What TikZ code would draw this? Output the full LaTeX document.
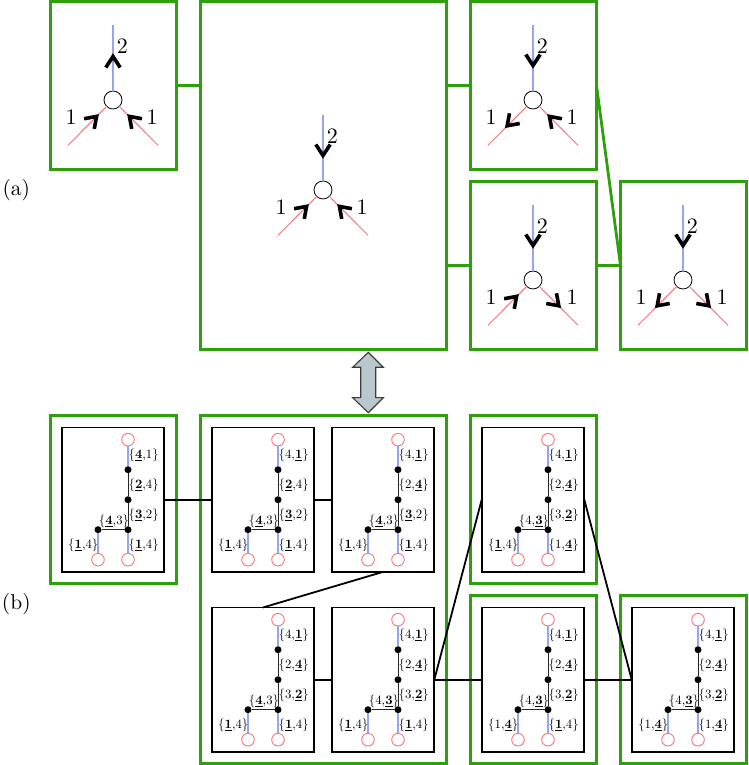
\documentclass[tikz,border=0pt]{standalone}
\tikzset{
  greenbox/.style={draw=frameColor,line width=2.8pt,inner sep=0pt,outer sep=0pt},
  greenlink/.style={draw=frameColor,line width=2.8pt},
  panelbox/.style={draw=black,line width=1.8pt,fill=white,minimum width=102.6pt,minimum height=144.4pt,inner sep=0pt,outer sep=0pt},
  panellink/.style={draw=black,line width=1.8pt},
  hollow/.style={circle,draw=black,line width=0.8pt,fill=white,minimum size=18pt,inner sep=0pt,outer sep=0pt},
  hollowred/.style={circle,draw=edgeRed,line width=0.9pt,fill=white,minimum size=12.6pt,inner sep=0pt,outer sep=0pt},
  dot/.style={circle,fill=black,minimum size=7pt,inner sep=0pt,outer sep=0pt},
  blueedge/.style={draw=edgeBlue,line width=1.1pt},
  rededge/.style={draw=edgeRed,line width=1pt},
  blackedge/.style={draw=black!85,line width=1pt},
  headline/.style={draw=black,line width=3.6pt,line join=miter},
  biglabel/.style={inner sep=0pt,outer sep=0pt,scale=2.20},
  setlabel/.style={inner sep=0pt,outer sep=0pt,scale=1.28}
}
\newcommand{\sel}[1]{$\underline{\mathbf{#1}}$}
\newcommand{\headmark}[3]{\draw[headline,rotate=#1] (#2+#3,7.2) -- (#2,0) -- (#2+#3,-7.2);}
\newcommand{\flowin}[1]{\headmark{#1}{23.2}{10.5}}
\newcommand{\flowout}[1]{\headmark{#1}{36.5}{-10.5}}
\newcommand{\vertexpic}[7]{
\begin{scope}[shift={(#2,#3)}]
\node[hollow] (#1c) at (0,0) {};
\coordinate (#1t) at (0,75);
\coordinate (#1l) at (-45,-45.3);
\coordinate (#1r) at (45,-45.3);
\draw[blueedge] (#1c) -- (#1t);
\draw[rededge] (#1c) -- (#1l);
\draw[rededge] (#1c) -- (#1r);
\headmark{90}{#4}{#5}
#6{225}
#7{315}
\node[biglabel] (#1n2) at (9.3,54.3) {2};
\node[biglabel] (#1n1) at (-42,-17.3) {1};
\node[biglabel] (#1n3) at (39,-17.3) {1};
\end{scope}
}
\newcommand{\treepanel}[9]{
\node[panelbox] (#1) at (#2,#3) {};
\begin{scope}[shift={(#2,#3)}]
\node[hollowred] (#1a) at (15,60) {};
\node[dot] (#1b) at (15,30) {};
\node[dot] (#1c) at (15,0) {};
\node[dot] (#1d) at (15,-30) {};
\node[dot] (#1e) at (-15,-30) {};
\node[hollowred] (#1f) at (15,-60) {};
\node[hollowred] (#1g) at (-15,-60) {};
\draw[blueedge] (#1a) -- (#1b);
\draw[blackedge] (#1b) -- (#1c);
\draw[blackedge] (#1c) -- (#1d);
\draw[blackedge] (#1d) -- (#1e);
\draw[blueedge] (#1d) -- (#1f);
\draw[blueedge] (#1e) -- (#1g);
\node[setlabel] (#1p) at (30.7,44) {\{#4\}};
\node[setlabel] (#1q) at (30.7,14) {\{#5\}};
\node[setlabel] (#1s) at (30.7,-16) {\{#6\}};
\node[setlabel] (#1u) at (1,-21.5) {\{#7\}};
\node[setlabel] (#1v) at (-29.7,-45.5) {\{#8\}};
\node[setlabel] (#1w) at (30.7,-45.5) {\{#9\}};
\end{scope}
}
\begin{document}
\begin{tikzpicture}[x=1pt,y=1pt]
\definecolor{frameColor}{RGB}{46,160,12}
\definecolor{edgeBlue}{RGB}{150,165,240}
\definecolor{edgeRed}{RGB}{250,115,125}
\definecolor{arrowFill}{RGB}{185,200,205}
\definecolor{arrowDraw}{RGB}{60,60,60}
\path[use as bounding box,fill=white] (0,0) rectangle (748,765);

\node[greenbox,minimum width=126pt,minimum height=168pt] (a1) at (113.5,679.5) {};
\node[greenbox,minimum width=246pt,minimum height=348pt] (a2) at (323.5,589.5) {};
\node[greenbox,minimum width=126pt,minimum height=168pt] (a3) at (533.5,679.5) {};
\node[greenbox,minimum width=126pt,minimum height=168pt] (a4) at (533.5,499.5) {};
\node[greenbox,minimum width=126pt,minimum height=168pt] (a5) at (683.5,499.5) {};

\draw[greenlink] (a1.east) -- (a1.east -| a2.west);
\draw[greenlink] (a3.west) -- (a3.west -| a2.east);
\draw[greenlink] (a4.west) -- (a4.west -| a2.east);
\draw[greenlink] (a4.east) -- (a5.west);
\draw[greenlink] (a3.east) -- (a5.west);

\vertexpic{v1}{113}{665}{43.5}{-11}{\flowin}{\flowin}
\vertexpic{v2}{323}{575}{34.5}{11}{\flowin}{\flowin}
\vertexpic{v3}{533}{665}{34.5}{11}{\flowout}{\flowin}
\vertexpic{v4}{533}{485}{34.5}{11}{\flowin}{\flowout}
\vertexpic{v5}{683}{485}{34.5}{11}{\flowout}{\flowout}

\node[scale=2.15,inner sep=0pt,outer sep=0pt] (laba) at (16.3,575) {(a)};
\node[scale=2.15,inner sep=0pt,outer sep=0pt] (labb) at (16.3,161) {(b)};

\path[draw=arrowDraw,fill=arrowFill,line width=1.1pt,line join=miter] (368.3,412.7) -- (383.3,397.7) -- (375.7,397.7) -- (375.7,367.3) -- (383.3,367.3) -- (368.3,352.3) -- (352.7,367.3) -- (360.7,367.3) -- (360.7,397.7) -- (352.7,397.7) -- cycle;

\node[greenbox,minimum width=126pt,minimum height=168pt] (b1) at (113.5,265.5) {};
\node[greenbox,minimum width=246pt,minimum height=348pt] (b2) at (323.5,175.5) {};
\node[greenbox,minimum width=126pt,minimum height=168pt] (b3) at (533.5,265.5) {};
\node[greenbox,minimum width=126pt,minimum height=168pt] (b4) at (533.5,85.5) {};
\node[greenbox,minimum width=126pt,minimum height=168pt] (b5) at (683.5,85.5) {};

\treepanel{t1}{113}{265.3}{\sel{4},1}{\sel{2},4}{\sel{3},2}{\sel{4},3}{\sel{1},4}{\sel{1},4}
\treepanel{t2}{263}{265.3}{4,\sel{1}}{\sel{2},4}{\sel{3},2}{\sel{4},3}{\sel{1},4}{\sel{1},4}
\treepanel{t3}{383}{265.3}{4,\sel{1}}{2,\sel{4}}{\sel{3},2}{\sel{4},3}{\sel{1},4}{\sel{1},4}
\treepanel{t4}{263}{85.3}{4,\sel{1}}{2,\sel{4}}{3,\sel{2}}{\sel{4},3}{\sel{1},4}{\sel{1},4}
\treepanel{t5}{383}{85.3}{4,\sel{1}}{2,\sel{4}}{3,\sel{2}}{4,\sel{3}}{\sel{1},4}{\sel{1},4}
\treepanel{t6}{533}{265.3}{4,\sel{1}}{2,\sel{4}}{3,\sel{2}}{4,\sel{3}}{\sel{1},4}{1,\sel{4}}
\treepanel{t7}{533}{85.3}{4,\sel{1}}{2,\sel{4}}{3,\sel{2}}{4,\sel{3}}{1,\sel{4}}{\sel{1},4}
\treepanel{t8}{683}{85.3}{4,\sel{1}}{2,\sel{4}}{3,\sel{2}}{4,\sel{3}}{1,\sel{4}}{1,\sel{4}}

\draw[panellink] (t1.east) -- (t2.west);
\draw[panellink] (t2.east) -- (t3.west);
\draw[panellink] (t3.south) -- (t4.north);
\draw[panellink] (t4.east) -- (t5.west);
\draw[panellink] (t5.east) -- (t6.west);
\draw[panellink] (t5.east) -- (t7.west);
\draw[panellink] (t7.east) -- (t8.west);
\draw[panellink] (t6.east) -- (t8.west);
\end{tikzpicture}
\end{document}
